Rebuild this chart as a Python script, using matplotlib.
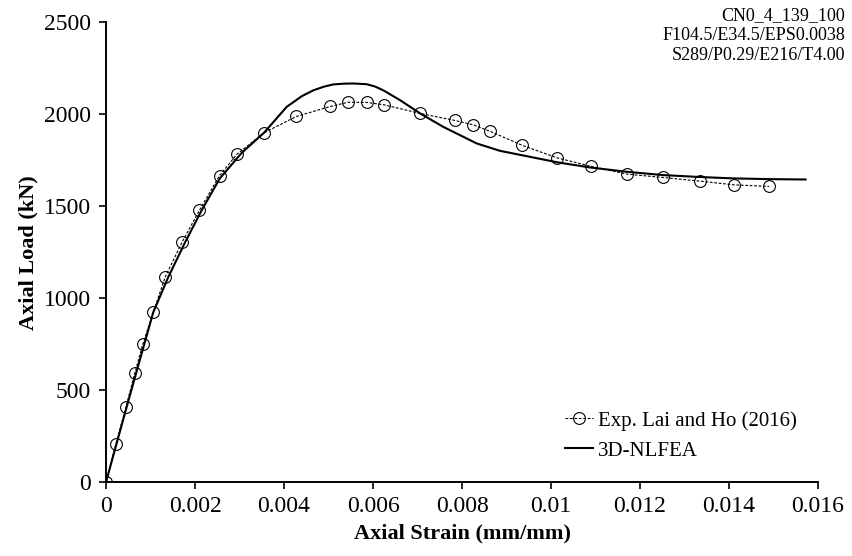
import matplotlib
matplotlib.use("Agg")
from matplotlib import pyplot as plt

# ─── data ────────────────────────────────────────────────────────────
EXP_STRAIN = [0.0, 0.000218, 0.000449, 0.000645, 0.000825, 0.00106, 0.00133,
              0.00171, 0.00210, 0.00255, 0.00294, 0.00355, 0.00428, 0.00504,
              0.00544, 0.00586, 0.00625, 0.00706, 0.00784, 0.00824, 0.00862,
              0.00934, 0.01013, 0.01089, 0.01171, 0.01252, 0.01335, 0.01411,
              0.01490]
EXP_LOAD = [0, 205, 408, 591, 748, 922, 1115, 1305, 1478, 1666, 1782, 1899,
            1988, 2042, 2065, 2064, 2051, 2004, 1966, 1943, 1908, 1832, 1763,
            1717, 1674, 1656, 1636, 1616, 1607]

FEA_STRAIN = [0.0, 0.0005, 0.00106, 0.0014, 0.00178, 0.00215, 0.00256, 0.00305,
              0.00355, 0.00406, 0.00440, 0.00466, 0.00490, 0.00511, 0.00535,
              0.00556, 0.00586, 0.00605, 0.00623, 0.00661, 0.00706, 0.00758,
              0.00833, 0.00885, 0.00945, 0.01015, 0.01089, 0.0117, 0.01252,
              0.01330, 0.01409, 0.01490, 0.01572]
FEA_LOAD = [0, 440, 922, 1115, 1305, 1478, 1652, 1790, 1899, 2040, 2098, 2130,
            2150, 2162, 2166, 2167, 2163, 2150, 2130, 2076, 2004, 1931, 1841,
            1801, 1772, 1738, 1710, 1687, 1669, 1659, 1651, 1647, 1645]

X_TICKS = [0, 0.002, 0.004, 0.006, 0.008, 0.01, 0.012, 0.014, 0.016]
X_LABELS = ["0", "0.002", "0.004", "0.006", "0.008", "0.01", "0.012", "0.014", "0.016"]
Y_TICKS = [0, 500, 1000, 1500, 2000, 2500]

INFO = "CN0_4_139_100\nF104.5/E34.5/EPS0.0038\nS289/P0.29/E216/T4.00"

# ─── figure ──────────────────────────────────────────────────────────
plt.rcParams["font.family"] = ["Liberation Serif", "DejaVu Serif"]
tick_fontsize = 17
label_fontsize = 16
legend_fontsize = 15

fig = plt.figure(figsize=(8.53, 5.56), dpi=100)
ax = fig.add_axes([0.1243, 0.133, 0.8347, 0.827])

ax.plot(EXP_STRAIN, EXP_LOAD, color="black", linestyle=(0, (2.5, 1.5)),
        linewidth=0.8, marker="o", markersize=8.5, markerfacecolor="none",
        markeredgecolor="black", markeredgewidth=0.8,
        label="Exp. Lai and Ho (2016)")
ax.plot(FEA_STRAIN, FEA_LOAD, color="black", linewidth=1.5, label="3D-NLFEA")

ax.set_xlim(0, 0.016)
ax.set_ylim(0, 2500)
ax.set_xticks(X_TICKS)
ax.set_xticklabels(X_LABELS)
ax.set_yticks(Y_TICKS)
ax.tick_params(direction="out", length=5, width=1.2, labelsize=tick_fontsize)
ax.tick_params(axis="y", pad=6)
ax.tick_params(axis="x", pad=5)
for side in ["top", "right"]:
    ax.spines[side].set_visible(False)
for side in ["left", "bottom"]:
    ax.spines[side].set_linewidth(1.4)
    ax.spines[side].set_zorder(0)

ax.set_xlabel("Axial Strain (mm/mm)", fontsize=label_fontsize, fontweight="bold",
              labelpad=5)
ax.set_ylabel("Axial Load (kN)", fontsize=label_fontsize, fontweight="bold",
              labelpad=4)

ax.legend(loc="upper left", bbox_to_anchor=(0.645, 0.155), frameon=False,
          fontsize=legend_fontsize, handlelength=1.35, handletextpad=0.2,
          labelspacing=0.5, borderpad=0, borderaxespad=0)

fig.text(0.991, 0.988, INFO, ha="right", va="top", fontsize=13, linespacing=1.25)

fig.savefig("out.png", dpi=100)
